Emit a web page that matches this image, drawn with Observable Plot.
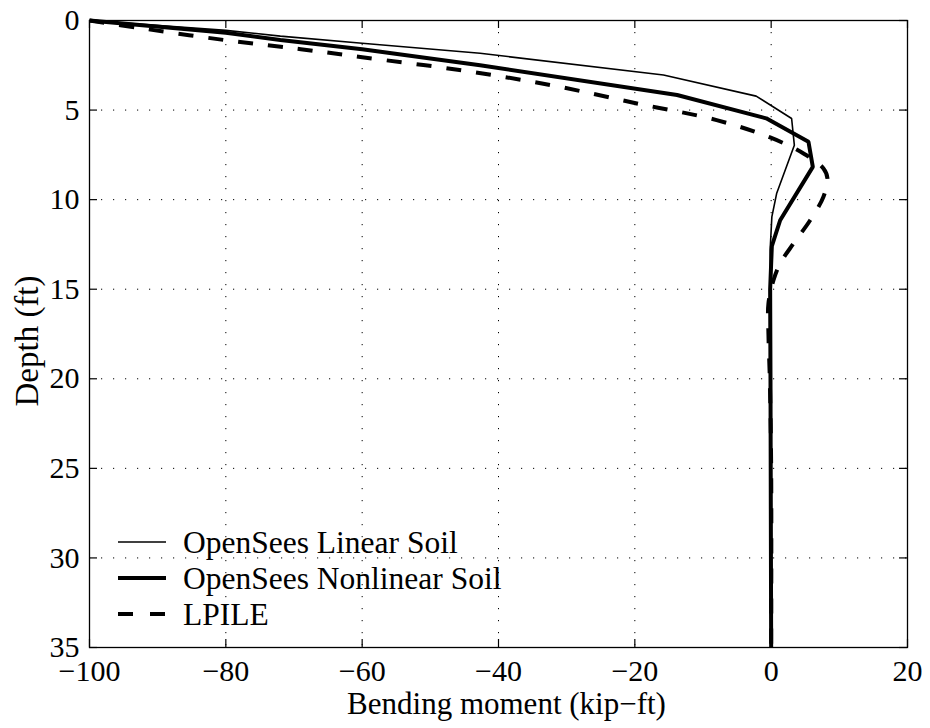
<!DOCTYPE html>
<html>
<head>
<meta charset="utf-8">
<script src="https://cdn.jsdelivr.net/npm/d3@7"></script>
<script src="https://cdn.jsdelivr.net/npm/@observablehq/plot@0.6"></script>
<style>
  html, body { margin: 0; padding: 0; background: #fff; }
  #wrap { position: relative; width: 930px; height: 728px; font-family: "Liberation Serif", "Times New Roman", serif; }
  #legend { position: absolute; left: 0; top: 0; pointer-events: none; }
</style>
</head>
<body>
<div id="wrap"></div>
<script>
// ---- Data (bending moment in kip-ft vs depth in ft) ----
const linearMoment = [-100, -80, -72, -60, -42.7, -15.8, -2.2, 3.0, 3.4, 0.8, 0.1, -0.15, -0.1, 0, 0];
const linearDepth  = [0, 0.55, 0.87, 1.27, 1.83, 3.04, 4.22, 5.47, 6.96, 9.66, 10.96, 12.8, 15, 20, 35];

const nonlinearMoment = [-100, -80, -72, -60, -42.7, -13.8, -0.73, 5.47, 6.11, 1.32, 0.1, -0.15, -0.1, 0];
const nonlinearDepth  = [0, 0.68, 1.09, 1.6, 2.5, 4.16, 5.46, 6.77, 8.17, 11.15, 12.6, 15, 20, 35];

const lpileMoment = [-100, -93, -80, -69, -60, -46, -32.4, -19.7, -8, -0.15, 4.74, 7.67, 8.26, 7.67, 5.72, 3.27, 1.32, 0.34, -0.4, -0.4, -0.2, 0, 0];
const lpileDepth  = [0, 0.4, 1.1, 1.6, 2.05, 2.75, 3.6, 4.63, 5.56, 6.53, 7.42, 8.26, 8.82, 9.84, 11.15, 12.45, 13.56, 14.5, 15.8, 17.5, 20, 25, 35];

const xTicks = [-100, -80, -60, -40, -20, 0, 20];
const yTicks = [0, 5, 10, 15, 20, 25, 30, 35];

const xLabel = "Bending moment (kip\u2212ft)";
const yLabel = "Depth (ft)";
const legendLabels = ["OpenSees Linear Soil", "OpenSees Nonlinear Soil", "LPILE"];

// ---- Layout ----
const W = 930, H = 728;
const mL = 89, mR = 23, mT = 20, mB = 81;
const innerW = W - mL - mR, innerH = H - mT - mB;
const tickLen = 8;

const toRows = (xs, ys) => xs.map((m, i) => ({m, d: ys[i]}));
const linear = toRows(linearMoment, linearDepth);
const nonlinear = toRows(nonlinearMoment, nonlinearDepth);
const lpile = toRows(lpileMoment, lpileDepth);

const fmt = d3.format("d");

const chart = Plot.plot({
  width: W, height: H,
  marginLeft: mL, marginRight: mR, marginTop: mT, marginBottom: mB,
  style: { fontFamily: "'Liberation Serif', 'Times New Roman', serif", fontSize: "30px", color: "black", background: "white" },
  x: { domain: [-100, 20] },
  y: { domain: [0, 35], reverse: true },
  marks: [
    Plot.gridX(xTicks, { stroke: "black", strokeOpacity: 1, strokeWidth: 1, strokeDasharray: "1.2,10.8" }),
    Plot.gridY(yTicks, { stroke: "black", strokeOpacity: 1, strokeWidth: 1, strokeDasharray: "1.2,10.8" }),
    // inward ticks on all four sides
    Plot.tickX(xTicks, { x: d => d, insetBottom: innerH - tickLen, stroke: "black", strokeWidth: 1.2 }),
    Plot.tickX(xTicks, { x: d => d, insetTop: innerH - tickLen, stroke: "black", strokeWidth: 1.2 }),
    Plot.tickY(yTicks, { y: d => d, insetRight: innerW - tickLen, stroke: "black", strokeWidth: 1.2 }),
    Plot.tickY(yTicks, { y: d => d, insetLeft: innerW - tickLen, stroke: "black", strokeWidth: 1.2 }),
    Plot.axisX({ ticks: xTicks, tickSize: 0, tickPadding: 12, tickFormat: fmt, label: null }),
    Plot.axisY({ ticks: yTicks, tickSize: 0, tickPadding: 10, tickFormat: fmt, label: null }),
    Plot.text([xLabel], { text: d => d, frameAnchor: "bottom", textAnchor: "middle", dx: 8, dy: 57, fontSize: 31, lineAnchor: "middle" }),
    Plot.text([yLabel], { text: d => d, frameAnchor: "left", textAnchor: "middle", dx: -62, dy: 7, rotate: -90, fontSize: 33, lineAnchor: "middle" }),
    Plot.line(lpile, { x: "m", y: "d", stroke: "black", strokeWidth: 4, strokeDasharray: "15,15", strokeLinecap: "butt", strokeLinejoin: "round", curve: "catmull-rom" }),
    Plot.line(nonlinear, { x: "m", y: "d", stroke: "black", strokeWidth: 4, strokeLinecap: "butt", strokeLinejoin: "miter" }),
    Plot.line(linear, { x: "m", y: "d", stroke: "black", strokeWidth: 1.6, strokeLinecap: "butt", strokeLinejoin: "miter" }),
    Plot.frame({ stroke: "black", strokeWidth: 1.3 })
  ]
});

const wrap = document.getElementById("wrap");
wrap.appendChild(chart);

// ---- Legend overlay (inside the axes, lower left, no box) ----
const legendStyles = [
  { w: 1.6, dash: null },
  { w: 4, dash: null },
  { w: 4, dash: "15,17" }
];
const lg = d3.select(wrap).append("svg")
  .attr("id", "legend").attr("width", W).attr("height", H);
const lx0 = 118, lx1 = 166, ltx = 183, ly0 = 542, lstep = 36;
legendLabels.forEach((lab, i) => {
  const y = ly0 + i * lstep;
  lg.append("line")
    .attr("x1", lx0).attr("x2", lx1).attr("y1", y).attr("y2", y)
    .attr("stroke", "black").attr("stroke-width", legendStyles[i].w)
    .attr("stroke-dasharray", legendStyles[i].dash);
  lg.append("text")
    .attr("x", ltx).attr("y", y + 11)
    .attr("font-family", "'Liberation Serif', 'Times New Roman', serif")
    .attr("font-size", 31.5)
    .attr("fill", "black")
    .text(lab);
});
</script>
</body>
</html>
